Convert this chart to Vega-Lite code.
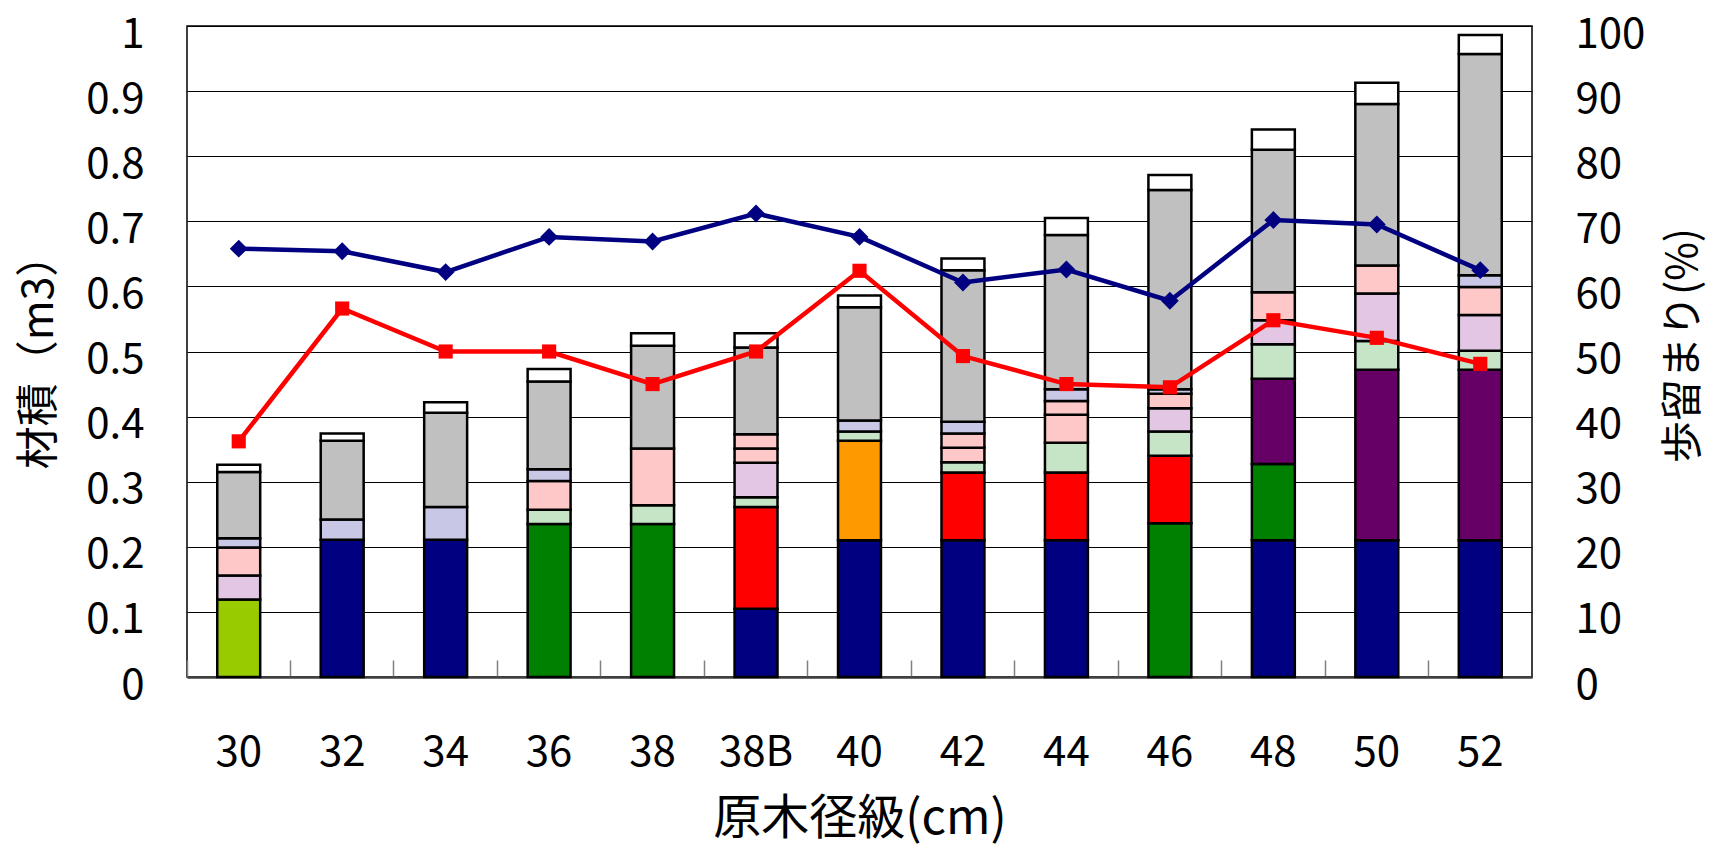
{
  "$schema": "https://vega.github.io/schema/vega-lite/v6.json",
  "width": 1345,
  "height": 651,
  "autosize": {"type": "none"},
  "padding": {"left": 187, "top": 26, "right": 183, "bottom": 169},
  "background": "white",
  "config": {
    "font": "Noto Sans CJK JP",
    "view": {"stroke": "#000000", "strokeWidth": 1.5}
  },
  "datasets": {
    "bars": [
      {"d": "30", "part": "区分01", "o": 1, "v": 0.119},
      {"d": "30", "part": "区分08", "o": 8, "v": 0.037},
      {"d": "30", "part": "区分09", "o": 9, "v": 0.043},
      {"d": "30", "part": "区分11", "o": 11, "v": 0.014},
      {"d": "30", "part": "区分12", "o": 12, "v": 0.102},
      {"d": "30", "part": "区分13", "o": 13, "v": 0.011},
      {"d": "32", "part": "区分02", "o": 2, "v": 0.211},
      {"d": "32", "part": "区分11", "o": 11, "v": 0.031},
      {"d": "32", "part": "区分12", "o": 12, "v": 0.121},
      {"d": "32", "part": "区分13", "o": 13, "v": 0.011},
      {"d": "34", "part": "区分02", "o": 2, "v": 0.211},
      {"d": "34", "part": "区分11", "o": 11, "v": 0.050},
      {"d": "34", "part": "区分12", "o": 12, "v": 0.145},
      {"d": "34", "part": "区分13", "o": 13, "v": 0.016},
      {"d": "36", "part": "区分03", "o": 3, "v": 0.235},
      {"d": "36", "part": "区分07", "o": 7, "v": 0.022},
      {"d": "36", "part": "区分09", "o": 9, "v": 0.044},
      {"d": "36", "part": "区分11", "o": 11, "v": 0.018},
      {"d": "36", "part": "区分12", "o": 12, "v": 0.135},
      {"d": "36", "part": "区分13", "o": 13, "v": 0.019},
      {"d": "38", "part": "区分03", "o": 3, "v": 0.235},
      {"d": "38", "part": "区分07", "o": 7, "v": 0.029},
      {"d": "38", "part": "区分09", "o": 9, "v": 0.087},
      {"d": "38", "part": "区分12", "o": 12, "v": 0.158},
      {"d": "38", "part": "区分13", "o": 13, "v": 0.019},
      {"d": "38B", "part": "区分02", "o": 2, "v": 0.105},
      {"d": "38B", "part": "区分04", "o": 4, "v": 0.156},
      {"d": "38B", "part": "区分07", "o": 7, "v": 0.015},
      {"d": "38B", "part": "区分08", "o": 8, "v": 0.053},
      {"d": "38B", "part": "区分09", "o": 9, "v": 0.022},
      {"d": "38B", "part": "区分10", "o": 10, "v": 0.022},
      {"d": "38B", "part": "区分12", "o": 12, "v": 0.133},
      {"d": "38B", "part": "区分13", "o": 13, "v": 0.022},
      {"d": "40", "part": "区分02", "o": 2, "v": 0.210},
      {"d": "40", "part": "区分05", "o": 5, "v": 0.153},
      {"d": "40", "part": "区分07", "o": 7, "v": 0.014},
      {"d": "40", "part": "区分11", "o": 11, "v": 0.017},
      {"d": "40", "part": "区分12", "o": 12, "v": 0.174},
      {"d": "40", "part": "区分13", "o": 13, "v": 0.018},
      {"d": "42", "part": "区分02", "o": 2, "v": 0.210},
      {"d": "42", "part": "区分04", "o": 4, "v": 0.104},
      {"d": "42", "part": "区分07", "o": 7, "v": 0.016},
      {"d": "42", "part": "区分09", "o": 9, "v": 0.022},
      {"d": "42", "part": "区分10", "o": 10, "v": 0.022},
      {"d": "42", "part": "区分11", "o": 11, "v": 0.018},
      {"d": "42", "part": "区分12", "o": 12, "v": 0.233},
      {"d": "42", "part": "区分13", "o": 13, "v": 0.018},
      {"d": "44", "part": "区分02", "o": 2, "v": 0.210},
      {"d": "44", "part": "区分04", "o": 4, "v": 0.104},
      {"d": "44", "part": "区分07", "o": 7, "v": 0.046},
      {"d": "44", "part": "区分09", "o": 9, "v": 0.043},
      {"d": "44", "part": "区分10", "o": 10, "v": 0.021},
      {"d": "44", "part": "区分11", "o": 11, "v": 0.018},
      {"d": "44", "part": "区分12", "o": 12, "v": 0.237},
      {"d": "44", "part": "区分13", "o": 13, "v": 0.026},
      {"d": "46", "part": "区分03", "o": 3, "v": 0.236},
      {"d": "46", "part": "区分04", "o": 4, "v": 0.104},
      {"d": "46", "part": "区分07", "o": 7, "v": 0.037},
      {"d": "46", "part": "区分08", "o": 8, "v": 0.036},
      {"d": "46", "part": "区分10", "o": 10, "v": 0.022},
      {"d": "46", "part": "区分11", "o": 11, "v": 0.007},
      {"d": "46", "part": "区分12", "o": 12, "v": 0.306},
      {"d": "46", "part": "区分13", "o": 13, "v": 0.023},
      {"d": "48", "part": "区分02", "o": 2, "v": 0.210},
      {"d": "48", "part": "区分03", "o": 3, "v": 0.117},
      {"d": "48", "part": "区分06", "o": 6, "v": 0.131},
      {"d": "48", "part": "区分07", "o": 7, "v": 0.053},
      {"d": "48", "part": "区分08", "o": 8, "v": 0.037},
      {"d": "48", "part": "区分09", "o": 9, "v": 0.043},
      {"d": "48", "part": "区分12", "o": 12, "v": 0.219},
      {"d": "48", "part": "区分13", "o": 13, "v": 0.031},
      {"d": "50", "part": "区分02", "o": 2, "v": 0.210},
      {"d": "50", "part": "区分06", "o": 6, "v": 0.262},
      {"d": "50", "part": "区分07", "o": 7, "v": 0.044},
      {"d": "50", "part": "区分08", "o": 8, "v": 0.073},
      {"d": "50", "part": "区分09", "o": 9, "v": 0.043},
      {"d": "50", "part": "区分12", "o": 12, "v": 0.248},
      {"d": "50", "part": "区分13", "o": 13, "v": 0.033},
      {"d": "52", "part": "区分02", "o": 2, "v": 0.210},
      {"d": "52", "part": "区分06", "o": 6, "v": 0.262},
      {"d": "52", "part": "区分07", "o": 7, "v": 0.029},
      {"d": "52", "part": "区分08", "o": 8, "v": 0.055},
      {"d": "52", "part": "区分09", "o": 9, "v": 0.043},
      {"d": "52", "part": "区分11", "o": 11, "v": 0.018},
      {"d": "52", "part": "区分12", "o": 12, "v": 0.340},
      {"d": "52", "part": "区分13", "o": 13, "v": 0.029}
    ],
    "rates": [
      {"d": "30", "s": "歩留まり1", "r": 65.8},
      {"d": "32", "s": "歩留まり1", "r": 65.4},
      {"d": "34", "s": "歩留まり1", "r": 62.2},
      {"d": "36", "s": "歩留まり1", "r": 67.6},
      {"d": "38", "s": "歩留まり1", "r": 66.9},
      {"d": "38B", "s": "歩留まり1", "r": 71.2},
      {"d": "40", "s": "歩留まり1", "r": 67.6},
      {"d": "42", "s": "歩留まり1", "r": 60.6},
      {"d": "44", "s": "歩留まり1", "r": 62.6},
      {"d": "46", "s": "歩留まり1", "r": 57.8},
      {"d": "48", "s": "歩留まり1", "r": 70.2},
      {"d": "50", "s": "歩留まり1", "r": 69.5},
      {"d": "52", "s": "歩留まり1", "r": 62.5},
      {"d": "30", "s": "歩留まり2", "r": 36.2},
      {"d": "32", "s": "歩留まり2", "r": 56.6},
      {"d": "34", "s": "歩留まり2", "r": 50.0},
      {"d": "36", "s": "歩留まり2", "r": 50.0},
      {"d": "38", "s": "歩留まり2", "r": 45.0},
      {"d": "38B", "s": "歩留まり2", "r": 50.0},
      {"d": "40", "s": "歩留まり2", "r": 62.4},
      {"d": "42", "s": "歩留まり2", "r": 49.3},
      {"d": "44", "s": "歩留まり2", "r": 45.0},
      {"d": "46", "s": "歩留まり2", "r": 44.5},
      {"d": "48", "s": "歩留まり2", "r": 54.8},
      {"d": "50", "s": "歩留まり2", "r": 52.1},
      {"d": "52", "s": "歩留まり2", "r": 48.1}
    ]
  },
  "encoding": {
    "x": {
      "field": "d", "type": "nominal",
      "sort": ["30","32","34","36","38","38B","40","42","44","46","48","50","52"],
      "scale": {"paddingInner": 0.585, "paddingOuter": 0.2925},
      "axis": {
        "title": "原木径級(cm)",
        "titleFontSize": 48, "titleFontWeight": "normal", "titleColor": "#000000",
        "titleBaseline": "middle", "titleY": 142, "titleX": 672.5,
        "labelFontSize": 42, "labelColor": "#000000", "labelAngle": 0,
        "labelBaseline": "top", "labelPadding": 72,
        "ticks": true, "tickSize": -17, "bandPosition": -0.704, "tickColor": "#808080", "tickWidth": 1.5,
        "domainColor": "#404040", "domainWidth": 2.5, "grid": false
      }
    }
  },
  "layer": [
    {
      "data": {"name": "bars"},
      "mark": {"type": "bar", "stroke": "#000000", "strokeWidth": 2.5},
      "encoding": {
        "y": {
          "field": "v", "type": "quantitative", "stack": "zero",
          "scale": {"domain": [0, 1], "nice": false, "zero": true},
          "axis": {
            "title": "材積（m3）",
            "titleFontSize": 43, "titleFontWeight": "normal", "titleColor": "#000000",
            "titleAngle": 270, "titleBaseline": "middle", "titleAlign": "center",
            "titleX": -148, "titleY": 325,
            "values": [0, 0.1, 0.2, 0.3, 0.4, 0.5, 0.6, 0.7, 0.8, 0.9, 1],
            "labelExpr": "datum.value == 0 ? '0' : datum.value == 1 ? '1' : format(datum.value, '.1f')",
            "labelFontSize": 42, "labelColor": "#000000", "labelPadding": 43,
            "labelBaseline": "middle", "labelOffset": 8,
            "ticks": false, "domain": false,
            "grid": true, "gridColor": "#000000", "gridWidth": 1
          }
        },
        "color": {
          "field": "part", "type": "nominal",
          "scale": {
            "domain": ["区分01","区分02","区分03","区分04","区分05","区分06","区分07","区分08","区分09","区分10","区分11","区分12","区分13"],
            "range": ["#99CC00","#000080","#008000","#FF0000","#FF9900","#660066","#C6E4C6","#E2C6E4","#FFC8C8","#FFC8C8","#C8C8E6","#C0C0C0","#FFFFFF"]
          },
          "legend": null
        },
        "order": {"field": "o", "type": "quantitative"}
      }
    },
    {
      "data": {"name": "rates"},
      "encoding": {
        "y": {
          "field": "r", "type": "quantitative",
          "scale": {"domain": [0, 100], "nice": false, "zero": true},
          "axis": {
            "orient": "right",
            "title": "歩留まり(%)",
            "titleFontSize": 42, "titleFontWeight": "normal", "titleColor": "#000000",
            "titleAngle": 270, "titleBaseline": "middle", "titleAlign": "center",
            "titleX": 151, "titleY": 319,
            "values": [0, 10, 20, 30, 40, 50, 60, 70, 80, 90, 100],
            "labelFontSize": 42, "labelColor": "#000000", "labelPadding": 43,
            "labelBaseline": "middle", "labelOffset": 8,
            "ticks": false, "domain": false, "grid": false
          }
        }
      },
      "layer": [
        {
          "transform": [{"filter": "datum.s == '歩留まり1'"}],
          "mark": {"type": "line", "color": "#000080", "strokeWidth": 4.5}
        },
        {
          "transform": [{"filter": "datum.s == '歩留まり1'"}],
          "mark": {"type": "point", "shape": "diamond", "filled": true, "color": "#000080", "size": 320, "opacity": 1}
        },
        {
          "transform": [{"filter": "datum.s == '歩留まり2'"}],
          "mark": {"type": "line", "color": "#FF0000", "strokeWidth": 4.5}
        },
        {
          "transform": [{"filter": "datum.s == '歩留まり2'"}],
          "mark": {"type": "square", "filled": true, "color": "#FF0000", "size": 200, "opacity": 1}
        }
      ]
    }
  ],
  "resolve": {"scale": {"y": "independent"}}
}
